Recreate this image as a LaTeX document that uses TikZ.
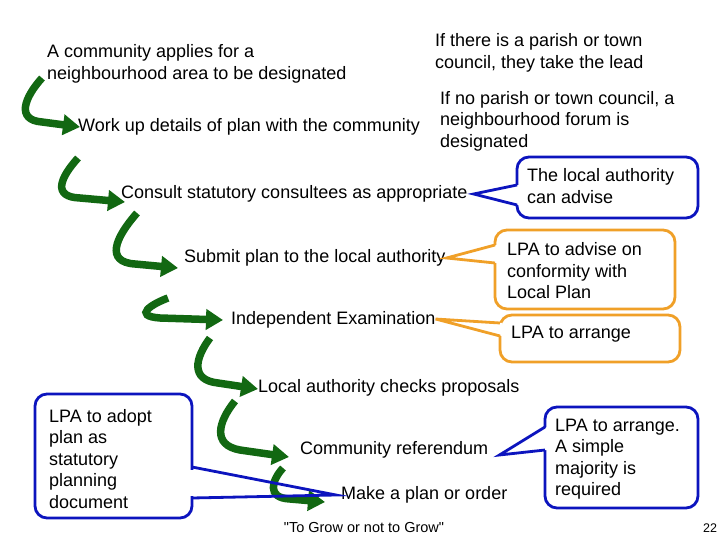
\documentclass[tikz,border=0pt]{standalone}
\usepackage{fontspec}
\setmainfont{Liberation Sans}
\newfontfamily\footfont{Liberation Sans}[Ligatures=TeXOff]
\usetikzlibrary{arrows.meta,calc}
\definecolor{dgreen}{RGB}{18,104,18}
\definecolor{cblue}{RGB}{12,20,190}
\definecolor{corange}{RGB}{240,160,40}
\tikzset{
  txt/.style={inner sep=0pt, anchor=west, align=left, font=\fontsize{18}{21.5}\selectfont},
  small/.style={inner sep=0pt, font=\footfont\fontsize{14.5}{17}\selectfont},
  pagenum/.style={inner sep=0pt, font=\fontsize{12.5}{15}\selectfont},
  garrow/.style={draw=dgreen, line width=7.5pt, -{Triangle[length=17pt,width=20pt]}},
  bluebox/.style={draw=cblue, line width=2.8pt, fill=white, rounded corners=12pt},
  orangebox/.style={draw=corange, line width=2.8pt, fill=white, rounded corners=12pt},
  bluetip/.style={draw=cblue, line width=2.8pt, line join=miter},
  orangetip/.style={draw=corange, line width=2.8pt, line join=miter},
}
\begin{document}
\begin{tikzpicture}[x=1pt,y=-1pt]
\useasboundingbox (0,0) rectangle (720,540);

% green step arrows
\coordinate (s1) at (42,78);   \coordinate (t1) at (80,127);
\coordinate (s2) at (78,158);  \coordinate (t2) at (125,202);
\coordinate (s3) at (137,213); \coordinate (t3) at (178,268);
\coordinate (s4) at (168,298); \coordinate (t4) at (223,320);
\coordinate (s5) at (210,338); \coordinate (t5) at (258,389);
\coordinate (s6) at (235,401); \coordinate (t6) at (289,457);
\coordinate (s7) at (283,468); \coordinate (t7) at (325,502);
\draw[garrow] (s1) .. controls (24,98) and (16,120) .. (42,122) -- (t1);
\draw[garrow] (s2) .. controls (60,178) and (52,197) .. (80,198) -- (t2);
\draw[garrow] (s3) .. controls (115,238) and (105,262) .. (135,264) -- (t3);
\draw[garrow] (s4) .. controls (152,304) and (132,316) .. (160,318) -- (t4);
\draw[garrow] (s5) .. controls (195,358) and (190,380) .. (218,383) -- (t5);
\draw[garrow] (s6) .. controls (218,422) and (212,445) .. (240,450) -- (t6);
\draw[garrow] (s7) .. controls (272,480) and (266,498) .. (290,499) -- (t7);

% step texts
\node[txt] (apply) at (47,64) {A community applies for a\\neighbourhood area to be designated};
\node[txt] (parish) at (435,53) {If there is a parish or town\\council, they take the lead};
\node[txt] (work) at (78,127) {Work up details of plan with the community};
\node[txt] (forum) at (440,121) {If no parish or town council, a\\neighbourhood forum is\\designated};
\node[txt] (consult) at (121,194) {Consult statutory consultees as appropriate};
\node[txt] (submit) at (184,258) {Submit plan to the local authority};
\node[txt] (exam) at (231,320) {Independent Examination};
\node[txt] (checks) at (258,388) {Local authority checks proposals};
\node[txt] (refer) at (300,450) {Community referendum};
\node[txt] (make) at (341,495) {Make a plan or order};

% callout tips
\coordinate (tipA) at ($(consult.east)+(6,0)$);
\coordinate (tipB) at ($(submit.east)+(1,0)$);
\coordinate (tipC) at ($(exam.east)+(0,-1)$);
\coordinate (tipD) at ($(make.west)+(-5,0)$);
\coordinate (tipE) at ($(refer.east)+(11,5)$);

% callout 1 (blue, top right)
\draw[bluebox] (517,157) rectangle (698,218);
\fill[white] (519,185) -- (tipA) -- (519,205) -- cycle;
\draw[bluetip] (517,185) -- (tipA) -- (517,205);
% callout 2 (orange)
\draw[orangebox] (495,230) rectangle (675,309);
\fill[white] (497,245) -- (tipB) -- (497,263) -- cycle;
\draw[orangetip] (495,245) -- (tipB) -- (495,263);
% callout 3 (orange)
\draw[orangebox] (500,315) rectangle (680,362);
\fill[white] (502,323) -- (tipC) -- (502,336) -- cycle;
\draw[orangetip] (500,323) -- (tipC) -- (500,336);
% callout 4 (blue, bottom left) - pointer not filled
\draw[bluebox] (35,394) rectangle (192,518);
\draw[draw=white, line width=4.5pt] (192,469.5) -- (192,495.5);
\draw[bluetip] (192,467) -- (tipD) -- (192,498);
% callout 5 (blue, bottom right)
\draw[bluebox] (545,407) rectangle (698,508);
\fill[white] (547,427) -- (tipE) -- (547,450) -- cycle;
\draw[bluetip] (545,427) -- (tipE) -- (545,450);

% callout texts
\node[txt] (advise) at (527,186) {The local authority\\can advise};
\node[txt] (conform) at (507,271) {LPA to advise on\\conformity with\\Local Plan};
\node[txt] (arrange) at (511,334) {LPA to arrange};
\node[txt] (adopt) at (49,459) {LPA to adopt\\plan as\\statutory\\planning\\document};
\node[txt] (arrange2) at (555,459) {LPA to arrange.\\A simple\\majority is\\required};

% footer
\node[small] (footer) at (364,528) {"To Grow or not to Grow"};
\node[pagenum] (page) at (710,528) {22};
\end{tikzpicture}
\end{document}
